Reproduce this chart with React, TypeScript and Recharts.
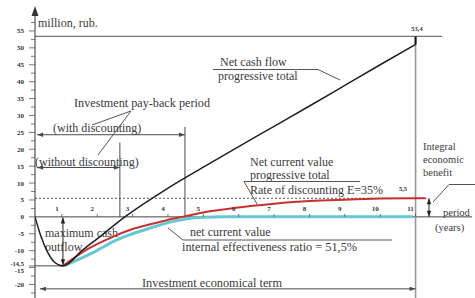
import React from 'react';
import { ComposedChart, Line, XAxis, YAxis, ReferenceLine, ReferenceDot } from 'recharts';

// net cash flow, progressive total (million rub.)
const cashYears = [0.24, 0.4, 0.6, 0.8, 1.03, 1.6, 2.07, 2.78, 4, 5, 6, 7, 8, 9, 10, 11];
const cashValues = [0, -5.5, -10.5, -13.5, -14.5, -9.7, -5.9, 0, 8.5, 14.7, 20.8, 26.8, 32.8, 38.9, 45, 51];

// net current value, progressive total (E = 35%)
const npvTotalYears = [1.03, 1.7, 2.44, 3, 3.5, 4, 4.4, 5, 6, 7, 8, 9, 10, 11, 11.29];
const npvTotalValues = [-14.5, -9.7, -5.9, -3.6, -2.2, -0.9, 0, 1.3, 2.8, 3.9, 4.7, 5.1, 5.4, 5.5, 5.5];

// net current value
const npvYears = [1.1, 1.88, 2.55, 3, 3.5, 4, 4.5, 5, 5.5, 10.93];
const npvValues = [-14.3, -10.6, -6.8, -5, -3.3, -1.7, -0.6, -0.1, 0, 0];

const periodTicks = [1, 2, 3, 4, 5, 6, 7, 8, 9, 10, 11];
const yTicks = [-22.5, -20, -17.5, -15, -14.5, -12.5, -10, -7.5, -5, -2.5, 0, 2.5, 5, 7.5, 10, 12.5, 15, 17.5,
  20, 22.5, 25, 27.5, 30, 32.5, 35, 37.5, 40, 42.5, 45, 47.5, 50, 52.5, 55, 57.5];

const totalCashFlow = 53.4;
const integralBenefit = 5.5;
const maxOutflow = -14.5;
const maxOutflowYear = 1.03;
const paybackWithDisc = 4.48;
const paybackWithoutDisc = 2.64;
const termEnd = 11;

const toPoints = (xs: number[], vs: number[]) => xs.map((x, i) => ({ x, v: vs[i] }));
const cashData = toPoints(cashYears, cashValues);
const npvTotalData = toPoints(npvTotalYears, npvTotalValues);
const npvData = toPoints(npvYears, npvValues);

const serif = '"Liberation Serif", "DejaVu Serif", serif';
const ink = '#3a3a3a';

const arrowShape = (color: string, width: number, start: boolean, end: boolean, dash?: string) => (p: any) => {
  const x1 = Number(p.x1), y1 = Number(p.y1), x2 = Number(p.x2), y2 = Number(p.y2);
  const head = (tx: number, ty: number, fx: number, fy: number, key: string) => {
    const a = Math.atan2(ty - fy, tx - fx);
    const L = 6, hw = 2.2;
    const bx = tx - L * Math.cos(a), by = ty - L * Math.sin(a);
    const px = -Math.sin(a) * hw, py = Math.cos(a) * hw;
    return <polygon key={key} points={`${tx},${ty} ${bx + px},${by + py} ${bx - px},${by - py}`} fill={color} />;
  };
  return (
    <g>
      <line x1={x1} y1={y1} x2={x2} y2={y2} stroke={color} strokeWidth={width} strokeDasharray={dash} />
      {start && head(x1, y1, x2, y2, 's')}
      {end && head(x2, y2, x1, y1, 'e')}
    </g>
  );
};

const YTick = (props: any) => {
  const { y, payload } = props;
  const v = payload.value;
  const labelled = v === -14.5 || v % 5 === 0;
  const label = v === -14.5 ? '-14,5' : String(v);
  const dy = v === -14.5 ? -2.5 : v === -15 ? 2.5 : 0;
  return (
    <g>
      <line x1={labelled ? 29 : 31} x2={35} y1={y} y2={y} stroke="#555" strokeWidth={0.8} />
      {labelled && (
        <text x={24} y={y + dy + 2.5} textAnchor="end" fontSize={v === -14.5 ? 6.5 : 7} fontWeight="bold" fontFamily={serif} fill="#333">
          {label}
        </text>
      )}
    </g>
  );
};

const periodTick = (n: number) => (p: any) => (
  <g>
    <line x1={p.cx} x2={p.cx} y1={p.cy} y2={p.cy - 3} stroke="#555" strokeWidth={0.8} />
    <text x={p.cx - 5} y={p.cy - 6} textAnchor="middle" fontSize={7} fontWeight="bold" fontFamily={serif} fill="#333">
      {n}
    </text>
  </g>
);

const Notes = () => (
  <svg width={475} height={298} style={{ position: 'absolute', left: 0, top: 0 }} fontFamily={serif} fill={ink}>
    <path d="M31.5,16 L35,6 L38.5,16 Z" fill="#333" />
    <text x={38} y={27} fontSize={12}>million, rub.</text>
    <text x={417} y={31} fontSize={6.5} fontWeight="bold" textAnchor="middle">53,4</text>

    <text x={220} y={66} fontSize={12}>Net cash flow</text>
    <text x={218} y={80} fontSize={12}>progressive total</text>
    <polyline points="213,69.5 318,69.5 340,80" fill="none" stroke="#555" strokeWidth={1} />

    <text x={74} y={107} fontSize={12.2}>Investment pay-back period</text>
    <polyline points="92,125 131,111 98,155" fill="none" stroke="#555" strokeWidth={1} />
    <text x={53} y={132} fontSize={12}>(with discounting)</text>
    <text x={35} y={166} fontSize={12}>(without discounting)</text>

    <text x={45} y={237} fontSize={12}>maximum cash</text>
    <text x={45} y={251} fontSize={12}>outflow</text>

    <text x={250} y={166} fontSize={12}>Net current value</text>
    <text x={250} y={179} fontSize={12}>progressive total</text>
    <polyline points="360,181.5 244,181.5 257,204" fill="none" stroke="#555" strokeWidth={1} />
    <text x={250} y={194} fontSize={12}>Rate of discounting E=35%</text>
    <text x={403} y={191} fontSize={6.5} fontWeight="bold" textAnchor="middle">5,5</text>

    <text x={190} y={236} fontSize={12}>net current value</text>
    <polyline points="168,228 183,240 392,240" fill="none" stroke="#555" strokeWidth={1} />
    <text x={182} y={251} fontSize={12.3}>internal effectiveness ratio = 51,5%</text>

    <text x={423} y={150} fontSize={10.5}>Integral</text>
    <text x={423} y={163} fontSize={10.5}>economic</text>
    <text x={423} y={176} fontSize={10.5}>benefit</text>
    <polyline points="475,184.5 449,184.5 433,202" fill="none" stroke="#555" strokeWidth={1} />

    <text x={443} y={216} fontSize={10.5}>period</text>
    <text x={435} y={231} fontSize={10.5}>(years)</text>

    <text x={142} y={287} fontSize={12.3}>Investment economical term</text>
  </svg>
);

export default function App() {
  const gray = '#4a4a4a';
  return (
    <div style={{ position: 'absolute', left: 0, top: 0, width: 475, height: 298, background: '#fff' }}>
      <Notes />
      <div style={{ position: 'absolute', left: 0, top: 0 }}>
        <ComposedChart width={475} height={298} margin={{ top: 10, right: 17, bottom: 0, left: 0 }}>
          <XAxis type="number" dataKey="x" domain={[0.24, 12.2]} hide allowDataOverflow />
          <YAxis
            type="number"
            domain={[-24, 61.2]}
            ticks={yTicks}
            interval={0}
            width={35}
            tickLine={false}
            axisLine={{ stroke: '#333', strokeWidth: 1 }}
            tick={<YTick />}
            allowDataOverflow
          />

          <ReferenceLine segment={[{ x: 0.24, y: 0 }, { x: 12.6, y: 0 }]} ifOverflow="visible" shape={arrowShape('#444', 1, false, false)} />
          <ReferenceLine segment={[{ x: 0.24, y: totalCashFlow }, { x: 11.75, y: totalCashFlow }]} ifOverflow="visible" shape={arrowShape('#777', 1.3, false, false)} />
          <ReferenceLine segment={[{ x: termEnd, y: totalCashFlow }, { x: termEnd, y: -24 }]} ifOverflow="visible" shape={arrowShape('#999', 1.6, false, false)} />
          <ReferenceLine segment={[{ x: termEnd, y: 51 }, { x: termEnd, y: totalCashFlow }]} ifOverflow="visible" shape={arrowShape('#111', 2, false, false)} />

          <ReferenceLine segment={[{ x: 0.3, y: 24.3 }, { x: paybackWithDisc, y: 24.3 }]} ifOverflow="visible" shape={arrowShape(gray, 1, true, true)} />
          <ReferenceLine segment={[{ x: paybackWithDisc, y: 0 }, { x: paybackWithDisc, y: 26.6 }]} ifOverflow="visible" shape={arrowShape(gray, 1, false, false)} />
          <ReferenceLine segment={[{ x: 0.3, y: 14.6 }, { x: paybackWithoutDisc, y: 14.6 }]} ifOverflow="visible" shape={arrowShape(gray, 1, true, true)} />
          <ReferenceLine segment={[{ x: paybackWithoutDisc, y: 0 }, { x: paybackWithoutDisc, y: 22 }]} ifOverflow="visible" shape={arrowShape(gray, 1, false, false)} />

          <ReferenceLine segment={[{ x: 0.24, y: integralBenefit }, { x: 11.3, y: integralBenefit }]} ifOverflow="visible" shape={arrowShape('#555', 1, false, false, '2 2')} />
          <ReferenceLine segment={[{ x: 0.38, y: -21.3 }, { x: termEnd, y: -21.3 }]} ifOverflow="visible" shape={arrowShape(gray, 1, true, true)} />
          <ReferenceLine segment={[{ x: 0.24, y: maxOutflow }, { x: maxOutflowYear, y: maxOutflow }]} ifOverflow="visible" shape={arrowShape(gray, 1, false, false)} />
          <ReferenceLine segment={[{ x: maxOutflowYear, y: -0.2 }, { x: maxOutflowYear, y: maxOutflow + 0.2 }]} ifOverflow="visible" shape={arrowShape('#222', 1, true, true)} />
          <ReferenceLine segment={[{ x: 11.38, y: 0 }, { x: 11.38, y: integralBenefit }]} ifOverflow="visible" shape={arrowShape('#222', 1, true, true)} />

          {periodTicks.map((n) => (
            <ReferenceDot key={n} x={n} y={0} r={0} ifOverflow="visible" shape={periodTick(n)} />
          ))}

          <Line data={npvData} dataKey="v" type="monotone" stroke="#66c8d2" strokeWidth={3} dot={false} isAnimationActive={false} />
          <Line data={npvTotalData} dataKey="v" type="monotone" stroke="#c9302c" strokeWidth={2} dot={false} isAnimationActive={false} />
          <Line data={cashData} dataKey="v" type="monotone" stroke="#1f1f1f" strokeWidth={1.5} dot={false} isAnimationActive={false} />
        </ComposedChart>
      </div>
    </div>
  );
}
